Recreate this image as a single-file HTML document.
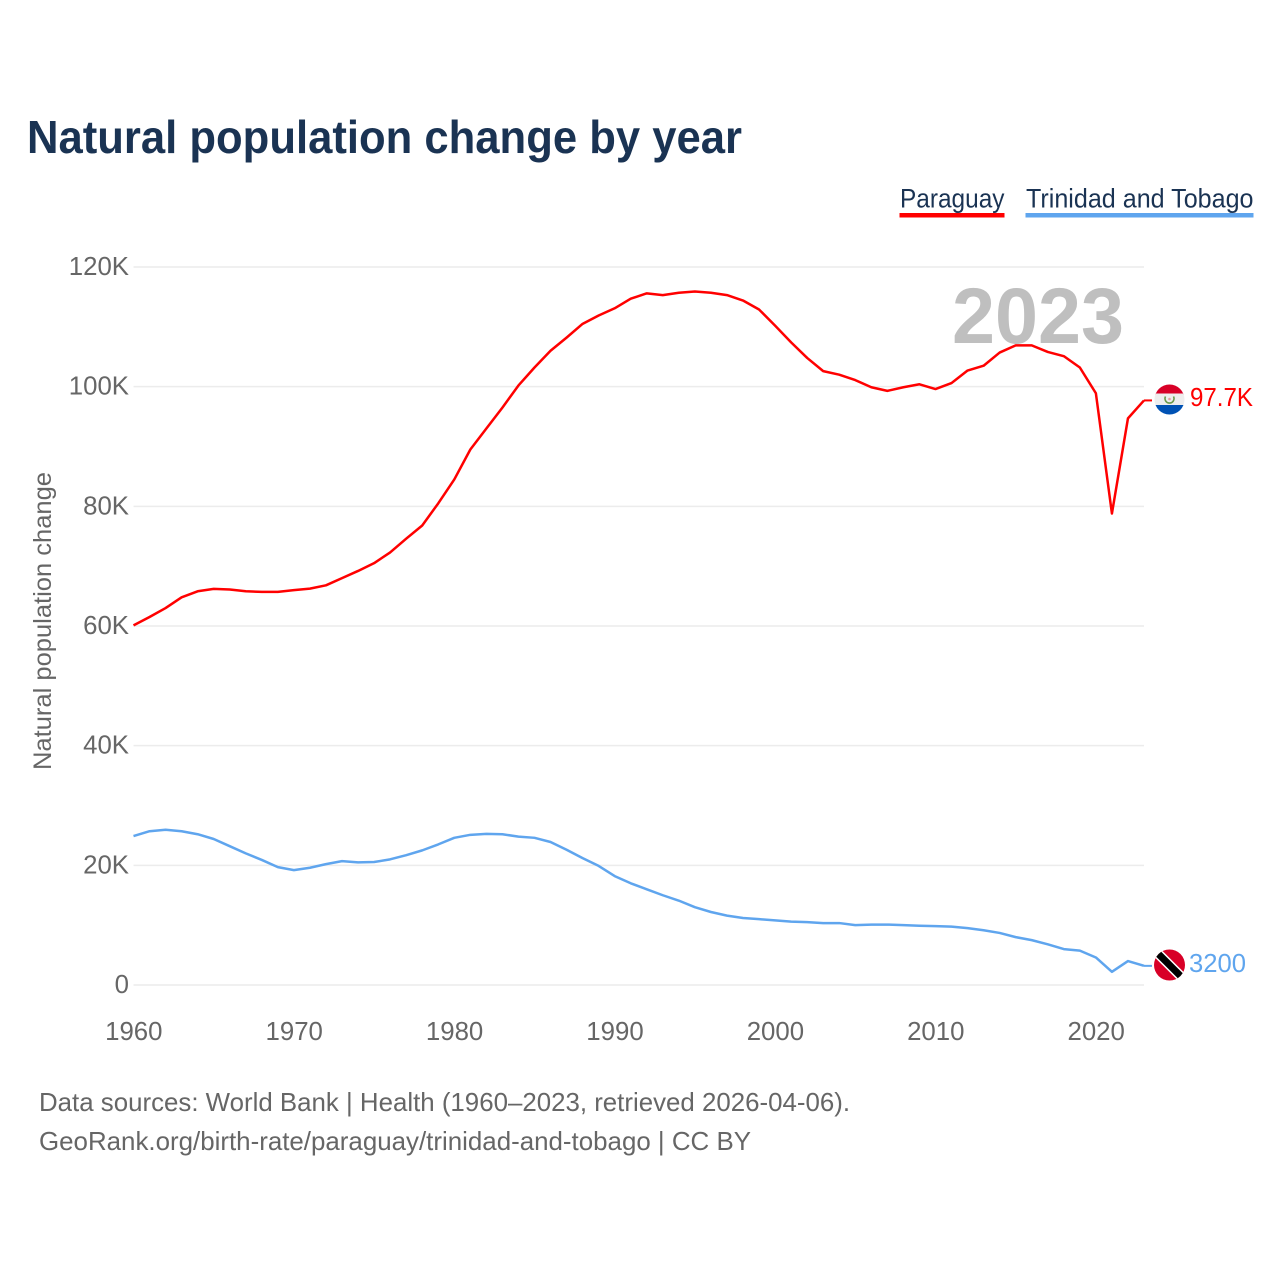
<!DOCTYPE html>
<html>
<head>
<meta charset="utf-8">
<style>
html,body{margin:0;padding:0;background:#fff;}
svg{display:block;}
text{font-family:"Liberation Sans",sans-serif;}
</style>
</head>
<body>
<svg id="chart" width="1280" height="1280" viewBox="0 0 1280 1280" xmlns="http://www.w3.org/2000/svg">
  <text x="27" y="153" font-size="46" font-weight="700" fill="#1a3353" textLength="715" lengthAdjust="spacingAndGlyphs">Natural population change by year</text>

  <text x="900" y="207.5" font-size="27" fill="#1a3353" textLength="104.5" lengthAdjust="spacingAndGlyphs">Paraguay</text>
  <rect x="899.5" y="213" width="105" height="4.5" fill="#ff0000"/>
  <text x="1026" y="207.5" font-size="27" fill="#1a3353" textLength="227.5" lengthAdjust="spacingAndGlyphs">Trinidad and Tobago</text>
  <rect x="1025.5" y="213" width="228" height="4.5" fill="#5fa5ee"/>

  <g id="grid"></g>
  <g id="yticks"></g>
  <g id="xticks"></g>

  <text transform="translate(51,621) rotate(-90)" text-anchor="middle" font-size="25" fill="#666666" textLength="298" lengthAdjust="spacingAndGlyphs">Natural population change</text>

  <text x="952" y="343" font-size="79" font-weight="700" fill="#bfbfbf" textLength="172" lengthAdjust="spacingAndGlyphs">2023</text>

  <g id="series"></g>

  <g>
    <defs>
      <clipPath id="clipPy"><circle cx="1169.5" cy="399.5" r="15"/></clipPath>
      <clipPath id="clipTt"><circle cx="1169.5" cy="965" r="15.5"/></clipPath>
    </defs>
    <g clip-path="url(#clipPy)">
      <rect x="1150" y="384" width="40" height="11" fill="#d80027"/>
      <rect x="1150" y="393.5" width="40" height="12" fill="#eeeeee"/>
      <rect x="1150" y="405" width="40" height="11" fill="#0052b4"/>
      <path d="M1165.5 396.5 a4.5 4.5 0 1 0 8 0" fill="none" stroke="#6a9a4a" stroke-width="1.6"/>
      <circle cx="1169.5" cy="399" r="1.3" fill="#e8a0a0"/>
    </g>
  </g>
  <g clip-path="url(#clipTt)">
    <rect x="1150" y="945" width="40" height="40" fill="#d80027"/>
    <line x1="1155" y1="950.5" x2="1184" y2="979.5" stroke="#ffffff" stroke-width="10"/>
    <line x1="1155" y1="950.5" x2="1184" y2="979.5" stroke="#000000" stroke-width="7"/>
  </g>

  <text x="1190" y="406" font-size="26" fill="#ff0000" textLength="63" lengthAdjust="spacingAndGlyphs">97.7K</text>
  <text x="1189" y="972" font-size="26" fill="#5fa5ee" textLength="57" lengthAdjust="spacingAndGlyphs">3200</text>

  <text x="39" y="1111" font-size="26" fill="#666666" textLength="811" lengthAdjust="spacingAndGlyphs">Data sources: World Bank | Health (1960–2023, retrieved 2026-04-06).</text>
  <text x="39" y="1150" font-size="26" fill="#666666" textLength="712" lengthAdjust="spacingAndGlyphs">GeoRank.org/birth-rate/paraguay/trinidad-and-tobago | CC BY</text>
</svg>
<script>
var startYear = 1960;
var yTickValues = [0, 20, 40, 60, 80, 100, 120];
var yTickLabels = ["0", "20K", "40K", "60K", "80K", "100K", "120K"];
var xTickValues = [1960, 1970, 1980, 1990, 2000, 2010, 2020];
var paraguayValues = [60.1,61.5,63.0,64.8,65.8,66.2,66.1,65.8,65.7,65.7,66.0,66.25,66.8,68.0,69.2,70.5,72.3,74.6,76.8,80.5,84.5,89.5,93.0,96.5,100.2,103.2,106.0,108.2,110.5,111.9,113.1,114.7,115.6,115.3,115.7,115.9,115.7,115.3,114.4,112.9,110.2,107.4,104.8,102.6,102.0,101.1,99.9,99.3,99.9,100.4,99.6,100.6,102.7,103.5,105.7,106.9,106.9,105.8,105.1,103.2,98.9,78.8,94.7,97.7];
var trinidadValues = [24.9,25.7,25.95,25.7,25.2,24.4,23.2,22.0,20.9,19.7,19.2,19.6,20.2,20.7,20.5,20.55,21.0,21.7,22.5,23.5,24.6,25.1,25.25,25.2,24.8,24.6,23.9,22.6,21.2,19.9,18.2,17.0,16.0,15.0,14.1,13.0,12.2,11.6,11.2,11.0,10.8,10.6,10.5,10.35,10.35,10.0,10.1,10.1,10.0,9.9,9.85,9.75,9.5,9.15,8.7,8.0,7.5,6.8,6.0,5.75,4.6,2.2,4.0,3.2];

function xScale(year) { return 133.5 + (year - 1960) * (1144 - 133.5) / 63; }
function yScale(v) { return 985 - v * (985 - 267) / 120; }

var NS = 'http://www.w3.org/2000/svg';
function make(tag, attrs, parent) {
  var el = document.createElementNS(NS, tag);
  for (var k in attrs) el.setAttribute(k, attrs[k]);
  parent.appendChild(el);
  return el;
}

var grid = document.getElementById('grid');
var yticks = document.getElementById('yticks');
var xticks = document.getElementById('xticks');
var series = document.getElementById('series');

yTickValues.forEach(function (v, i) {
  var line = make('line', {x1: 133.5, x2: 1144, y1: yScale(v), y2: yScale(v), stroke: '#ececec', 'stroke-width': 1.5}, grid);
  
  
  var t = make('text', {x: 129, y: yScale(v) + 8, 'text-anchor': 'end', 'font-size': 25.8, fill: '#666666'}, yticks);
  t.textContent = yTickLabels[i];
  
  
});

xTickValues.forEach(function (yr) {
  var t = make('text', {x: xScale(yr) + 0.3, y: 1040, 'text-anchor': 'middle', 'font-size': 25.8, fill: '#666666'}, xticks);
  t.textContent = String(yr);
  
  
});

function drawSeries(values, color, name, leadEndX) {
  var pts = values.map(function (v, i) { return xScale(startYear + i) + ',' + yScale(v); });
  var line = make('polyline', {points: pts.join(' '), fill: 'none', stroke: color, 'stroke-width': 2.5, 'stroke-linejoin': 'round'}, series);
  
  
  var lastY = yScale(values[values.length - 1]);
  var lead = make('line', {x1: xScale(startYear + values.length - 1), x2: leadEndX, y1: lastY, y2: lastY, stroke: color, 'stroke-width': 2}, series);
  
  
}
drawSeries(paraguayValues, '#ff0000', 'line-paraguay', 1152);
drawSeries(trinidadValues, '#5fa5ee', 'line-trinidad-and-tobago', 1152);
</script>
</body>
</html>
